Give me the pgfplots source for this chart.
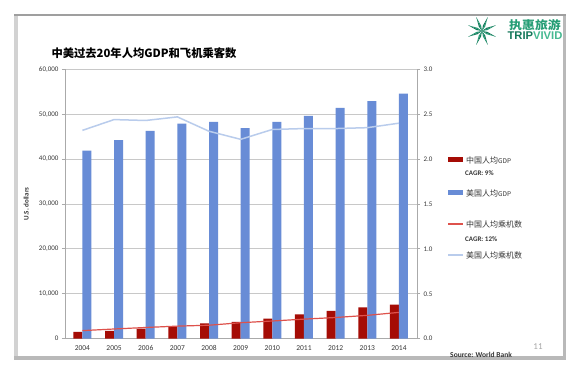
\documentclass[border=0pt]{standalone}
\usepackage{pgfplots}
\pgfplotsset{compat=1.18}
\usepackage{fontspec}
\setmainfont{Carlito}
\newfontfamily\cjk{Noto Sans CJK SC}
\newfontfamily\arial{Liberation Sans}
\definecolor{cnbar}{RGB}{165,12,5}
\definecolor{usbar}{RGB}{104,140,214}
\definecolor{cnline}{RGB}{222,82,76}
\definecolor{usline}{RGB}{185,204,236}
\definecolor{gridc}{RGB}{200,200,200}
\definecolor{axc}{RGB}{170,170,170}
\definecolor{txt}{RGB}{55,55,55}
\definecolor{logo}{RGB}{38,158,118}
\definecolor{logod}{RGB}{20,120,90}
\definecolor{logol}{RGB}{70,185,145}

\pgfplotstableread{
x cngdp usgdp cnfly usfly
0 1500 41900 0.090 2.32
1 1740 44200 0.108 2.44
2 2230 46300 0.125 2.43
3 2760 47900 0.140 2.47
4 3430 48300 0.150 2.31
5 3720 46900 0.178 2.22
6 4450 48300 0.197 2.33
7 5430 49600 0.218 2.34
8 6170 51400 0.236 2.34
9 7000 52900 0.260 2.35
10 7590 54600 0.293 2.40
}\datatable

\begin{document}
\begin{tikzpicture}
\useasboundingbox (0pt,0pt) rectangle (582pt,375pt);
\fill[white] (0pt,0pt) rectangle (582pt,375pt);
% slide frame
\fill[gray!35] (14pt,15pt) rectangle (18pt,361pt);
\fill[gray!55] (14pt,15pt) rectangle (566pt,18.5pt);
\fill[gray!55] (562.5pt,15pt) rectangle (566pt,361pt);
\fill[gray!75] (14pt,359pt) rectangle (566pt,361pt);
% logo
\begin{scope}[shift={(482pt,344pt)}]
\foreach \a in {22.5,67.5,...,337.5} {
  \fill[logo] (0pt,0pt) -- (\a-13:5.5pt) -- (\a:15pt) -- cycle;
  \fill[logod] (0pt,0pt) -- (\a:15pt) -- (\a+13:5.5pt) -- cycle;
}
\end{scope}
\node[anchor=center, font=\cjk\bfseries\fontsize{11.5}{12}\selectfont, text=logo, xscale=1.12] at (535pt,350pt) {执惠旅游};
\node[anchor=center, font=\arial\bfseries\fontsize{11.2}{12}\selectfont] at (535pt,339pt) {\textcolor{logod}{TRIP}\textcolor{logol}{VIVID}};
% title
\node[anchor=west, font=\cjk\bfseries\fontsize{11.3}{12}\selectfont, text=black] at (48pt,322pt) {中美过去20年人均GDP和飞机乘客数};

\begin{axis}[
  at={(65pt,36.3pt)}, anchor=south west,
  width=352pt, height=269.4pt, scale only axis,
  xmin=-0.55, xmax=10.57,
  ymin=0, ymax=60000,
  ytick={0,10000,...,60000},
  xtick={0,...,10},
  xticklabels={2004,2005,2006,2007,2008,2009,2010,2011,2012,2013,2014},
  axis y line*=left, axis x line*=bottom,
  axis line style={axc, line width=0.8pt, -},
  ymajorgrids, grid style={gridc, line width=0.8pt},
  major x tick style={draw=none},
  major y tick style={axc, line width=0.8pt},
  tick align=outside, major tick length=3pt,
  /pgf/number format/assume math mode=true,
  /pgf/number format/1000 sep={,},
  scaled y ticks=false,
  ticklabel style={font=\fontsize{7}{8}\selectfont, text=txt},
  xticklabel style={font=\fontsize{7.5}{8}\selectfont, text=txt},
  ylabel={U.S. dollars},
  ylabel style={at={(axis description cs:-0.11,0.5)}, anchor=center, font=\bfseries\fontsize{7}{8}\selectfont, text=txt},
  clip=false,
]
\addplot[ybar, bar width=9pt, bar shift=-4.5pt, fill=cnbar, draw=none] table[x=x, y=cngdp] {\datatable};
\addplot[ybar, bar width=9pt, bar shift=4.5pt, fill=usbar, draw=none] table[x=x, y=usgdp] {\datatable};
\end{axis}

\begin{axis}[
  at={(65pt,36.3pt)}, anchor=south west,
  width=352pt, height=269.4pt, scale only axis,
  xmin=-0.55, xmax=10.57,
  ymin=0, ymax=3,
  ytick={0,0.5,...,3},
  axis y line*=right, axis x line=none,
  axis line style={axc, line width=0.8pt, -},
  major y tick style={axc, line width=0.8pt},
  tick align=outside, major tick length=3pt,
  /pgf/number format/assume math mode=true,
  /pgf/number format/fixed, /pgf/number format/zerofill, /pgf/number format/precision=1,
  ticklabel style={font=\fontsize{7}{8}\selectfont, text=txt},
]
\addplot[usline, line width=1.5pt, mark=none] table[x=x, y=usfly] {\datatable};
\addplot[cnline, line width=1.2pt, mark=none] table[x=x, y=cnfly] {\datatable};
\end{axis}

% legend
\fill[cnbar] (448pt,212.5pt) rectangle (463pt,217.5pt);
\node[anchor=west, inner sep=0pt, text=txt] at (466pt,215pt) {\cjk\fontsize{8}{9}\selectfont 中国人均\fontsize{6.5}{7}\selectfont GDP};
\node[anchor=west, inner sep=0pt, text=txt, font=\bfseries\fontsize{7}{8}\selectfont] at (465pt,202pt) {CAGR: 9\%};
\fill[usbar] (448pt,179.5pt) rectangle (463pt,184.5pt);
\node[anchor=west, inner sep=0pt, text=txt] at (466pt,182pt) {\cjk\fontsize{8}{9}\selectfont 美国人均\fontsize{6.5}{7}\selectfont GDP};
\draw[cnline, line width=1.5pt] (448pt,151pt) -- (463pt,151pt);
\node[anchor=west, inner sep=0pt, text=txt] at (466pt,151pt) {\cjk\fontsize{8}{9}\selectfont 中国人均乘机数};
\node[anchor=west, inner sep=0pt, text=txt, font=\bfseries\fontsize{7}{8}\selectfont] at (465pt,136pt) {CAGR: 12\%};
\draw[usline, line width=1.5pt] (448pt,120pt) -- (463pt,120pt);
\node[anchor=west, inner sep=0pt, text=txt] at (466pt,120pt) {\cjk\fontsize{8}{9}\selectfont 美国人均乘机数};
% source and page number
\node[anchor=west, inner sep=0pt, font=\bfseries\fontsize{7.5}{8}\selectfont, text=txt] at (450pt,20.5pt) {Source: World Bank};
\node[anchor=center, inner sep=0pt, font=\fontsize{9}{10}\selectfont, text=gray!70] at (538pt,28pt) {11};
\end{tikzpicture}
\end{document}
